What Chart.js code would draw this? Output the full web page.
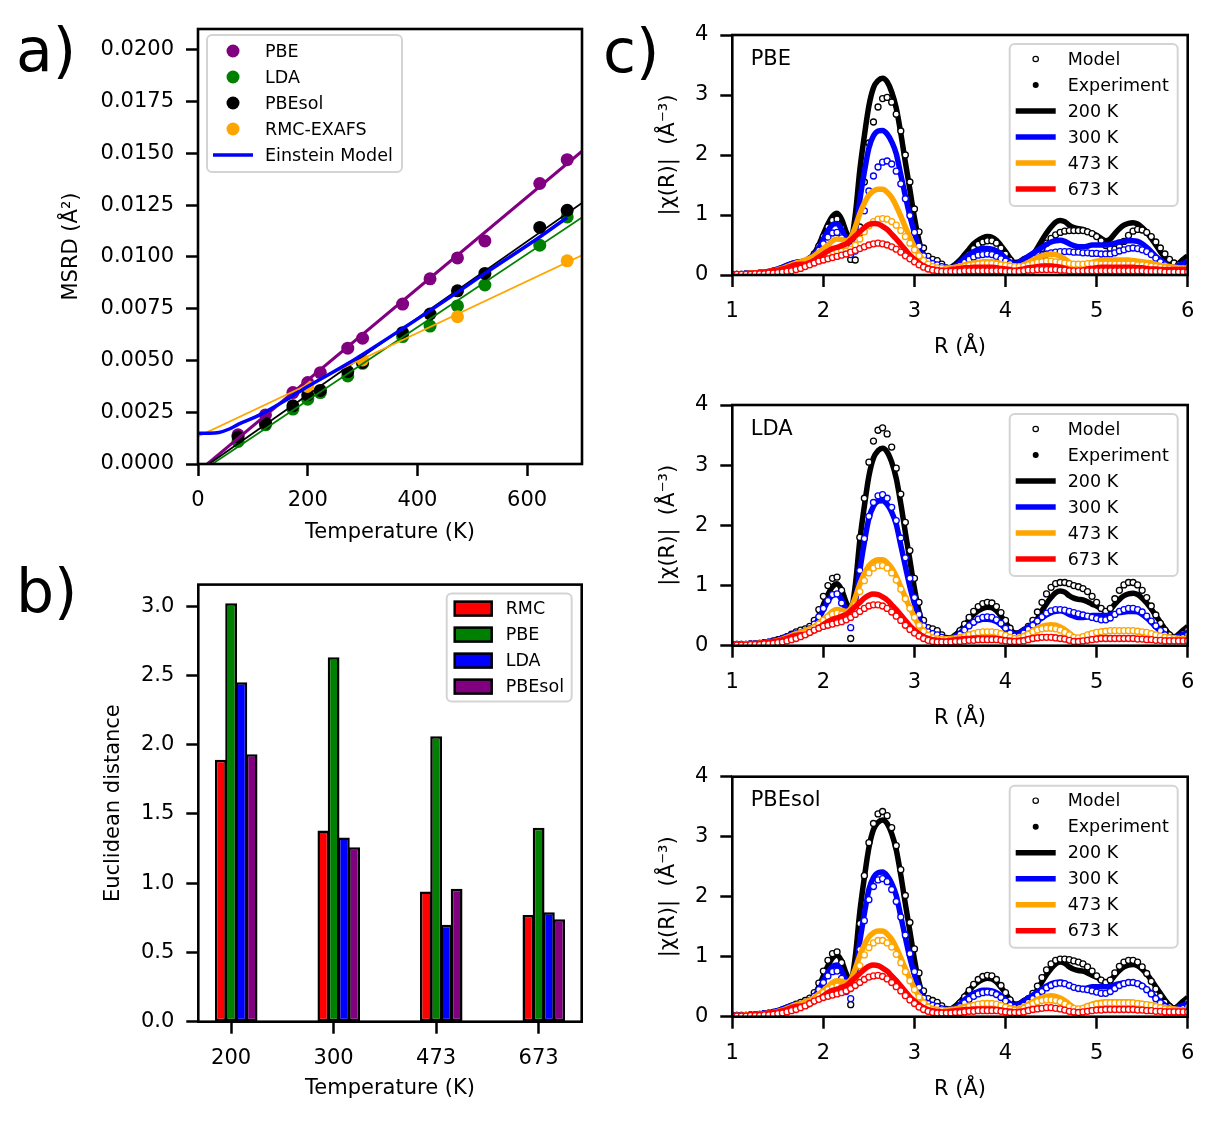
<!DOCTYPE html>
<html>
<head>
<meta charset="utf-8">
<script src="https://cdn.jsdelivr.net/npm/chart.js@4.4.1/dist/chart.umd.min.js"></script>
<style>
  html, body { margin: 0; padding: 0; background: #fff; }
  body { width: 1210px; height: 1121px; position: relative; overflow: hidden; }
  canvas { position: absolute; }
</style>
</head>
<body>
<canvas id="chartA" width="600" height="555" style="left:0;top:0"></canvas>
<canvas id="chartB" width="600" height="561" style="left:0;top:560px"></canvas>
<canvas id="chartC1" width="610" height="370" style="left:600px;top:0"></canvas>
<canvas id="chartC2" width="610" height="370" style="left:600px;top:370px"></canvas>
<canvas id="chartC3" width="610" height="381" style="left:600px;top:740px"></canvas>
<script>
// -------------------------------
// Panel a data: MSRD vs temperature
// -------------------------------
const DFT_T = [73, 123, 173, 200, 223, 273, 300, 373, 423, 473, 523, 623, 673];
const PBE_MSRD = [0.00141, 0.00237, 0.00345, 0.00393, 0.00441, 0.00559, 0.00607, 0.00772, 0.00894, 0.00995, 0.01077, 0.01354, 0.01469];
const LDA_MSRD = [0.00109, 0.00189, 0.00265, 0.00313, 0.00345, 0.00425, 0.00486, 0.00615, 0.00666, 0.00763, 0.00864, 0.01056, 0.01193];
const PBESOL_MSRD = [0.00130, 0.00197, 0.00281, 0.00334, 0.00355, 0.00446, 0.00490, 0.00634, 0.00724, 0.00836, 0.00920, 0.01142, 0.01225];
const RMC_T = [200, 300, 473, 673];
const RMC_MSRD = [0.00374, 0.00502, 0.00711, 0.00981];

// straight fits, read at their two visible ends
const FIT_PBE_T = [17, 700];
const FIT_PBE = [0, 0.0151];
const FIT_LDA_T = [26, 700];
const FIT_LDA = [0, 0.0119];
const FIT_PBESOL_T = [20, 700];
const FIT_PBESOL = [0, 0.0126];
const FIT_RMC_T = [0, 700];
const FIT_RMC = [0.00133, 0.01008];

const EINSTEIN_T = [0, 20, 38, 57, 75, 106, 124, 166, 200, 274, 374, 474, 523, 623, 673];
const EINSTEIN_MSRD = [0.00149, 0.00149, 0.00152, 0.00169, 0.00194, 0.00229, 0.00253, 0.00318, 0.00374, 0.00486, 0.00655, 0.00831, 0.0092, 0.01096, 0.0119];

const MSRD_TICKS = [0, 0.0025, 0.005, 0.0075, 0.01, 0.0125, 0.015, 0.0175, 0.02];
const TEMP_TICKS = [0, 200, 400, 600];
const NAMES_A = ["PBE", "LDA", "PBEsol", "RMC-EXAFS", "Einstein Model"];

// -------------------------------
// Panel b data: Euclidean distance
// -------------------------------
const BAR_TEMPS = ["200", "300", "473", "673"];
const RMC_DIST = [1.89, 1.38, 0.94, 0.77];
const PBE_DIST = [3.02, 2.63, 2.06, 1.40];
const LDA_DIST = [2.45, 1.33, 0.70, 0.79];
const PBESOL_DIST = [1.93, 1.26, 0.96, 0.74];
const NAMES_B = ["RMC", "PBE", "LDA", "PBEsol"];
const DIST_TICKS = [0, 0.5, 1, 1.5, 2, 2.5, 3];

// -------------------------------
// Panel c data: |chi(R)|
// -------------------------------
const R_GRID = [
  1, 1.05, 1.1, 1.15, 1.2, 1.25, 1.3, 1.35, 1.4, 1.45, 1.5, 1.55, 1.6, 1.65, 1.7, 1.75, 1.8, 1.85, 1.9, 1.95,
  2, 2.05, 2.1, 2.15, 2.2, 2.25, 2.3, 2.35, 2.4, 2.45, 2.5, 2.55, 2.6, 2.65, 2.7, 2.75, 2.8, 2.85, 2.9, 2.95,
  3, 3.05, 3.1, 3.15, 3.2, 3.25, 3.3, 3.35, 3.4, 3.45, 3.5, 3.55, 3.6, 3.65, 3.7, 3.75, 3.8, 3.85, 3.9, 3.95,
  4, 4.05, 4.1, 4.15, 4.2, 4.25, 4.3, 4.35, 4.4, 4.45, 4.5, 4.55, 4.6, 4.65, 4.7, 4.75, 4.8, 4.85, 4.9, 4.95,
  5, 5.05, 5.1, 5.15, 5.2, 5.25, 5.3, 5.35, 5.4, 5.45, 5.5, 5.55, 5.6, 5.65, 5.7, 5.75, 5.8, 5.85, 5.9, 5.95,
  6
];

const EXP_200 = [
  0.02,0.02,0.02,0.02,0.03,0.03,0.04,0.05,0.06,0.08,0.10,0.13,0.16,0.19,0.21,0.22,0.24,0.28,0.36,0.50,
  0.68,0.85,0.98,1.03,0.93,0.72,0.60,1.00,1.75,2.32,2.82,3.12,3.24,3.28,3.22,3.05,2.78,2.36,1.88,1.42,
  0.95,0.57,0.34,0.26,0.25,0.22,0.16,0.12,0.13,0.18,0.25,0.34,0.43,0.52,0.58,0.62,0.64,0.63,0.58,0.49,
  0.39,0.28,0.21,0.22,0.27,0.30,0.34,0.45,0.58,0.70,0.80,0.88,0.91,0.89,0.83,0.79,0.77,0.76,0.73,0.69,
  0.66,0.61,0.57,0.60,0.69,0.77,0.83,0.86,0.87,0.85,0.79,0.71,0.61,0.50,0.39,0.28,0.19,0.14,0.19,0.26,
  0.32
];
const EXP_300 = [
  0.02,0.02,0.02,0.02,0.03,0.03,0.04,0.05,0.06,0.08,0.10,0.13,0.16,0.19,0.21,0.22,0.24,0.27,0.34,0.45,
  0.60,0.74,0.84,0.86,0.76,0.60,0.55,0.72,1.25,1.72,2.12,2.32,2.40,2.41,2.35,2.22,2.02,1.67,1.32,0.98,
  0.70,0.44,0.29,0.22,0.20,0.17,0.14,0.12,0.12,0.15,0.21,0.28,0.34,0.39,0.42,0.44,0.44,0.43,0.40,0.35,
  0.28,0.22,0.19,0.21,0.26,0.31,0.36,0.41,0.46,0.51,0.55,0.57,0.58,0.56,0.52,0.49,0.47,0.47,0.48,0.50,
  0.50,0.50,0.50,0.51,0.53,0.55,0.56,0.57,0.57,0.56,0.52,0.46,0.39,0.31,0.25,0.19,0.14,0.13,0.16,0.19,
  0.22
];
const EXP_473 = [
  0.02,0.02,0.02,0.02,0.03,0.03,0.04,0.05,0.06,0.07,0.09,0.11,0.14,0.17,0.20,0.22,0.25,0.28,0.32,0.38,
  0.44,0.50,0.57,0.60,0.59,0.57,0.62,0.80,1.02,1.20,1.33,1.40,1.43,1.43,1.38,1.29,1.15,0.98,0.80,0.63,
  0.47,0.34,0.24,0.17,0.13,0.12,0.11,0.11,0.12,0.13,0.15,0.17,0.19,0.20,0.21,0.22,0.22,0.22,0.21,0.19,
  0.17,0.15,0.13,0.14,0.17,0.21,0.25,0.29,0.32,0.34,0.35,0.34,0.31,0.27,0.21,0.15,0.13,0.15,0.18,0.21,
  0.23,0.24,0.25,0.25,0.25,0.25,0.25,0.25,0.24,0.23,0.22,0.21,0.20,0.18,0.16,0.15,0.14,0.13,0.12,0.11,
  0.11
];
const EXP_673 = [
  0.02,0.02,0.02,0.02,0.03,0.03,0.04,0.05,0.06,0.07,0.08,0.10,0.12,0.15,0.17,0.18,0.18,0.21,0.25,0.30,
  0.35,0.40,0.44,0.46,0.49,0.52,0.58,0.65,0.72,0.79,0.84,0.86,0.85,0.81,0.76,0.68,0.60,0.51,0.42,0.33,
  0.26,0.20,0.15,0.12,0.10,0.09,0.08,0.08,0.09,0.10,0.11,0.12,0.12,0.13,0.13,0.13,0.13,0.13,0.12,0.11,
  0.10,0.09,0.08,0.09,0.10,0.12,0.13,0.14,0.15,0.15,0.15,0.14,0.13,0.11,0.09,0.07,0.07,0.08,0.10,0.11,
  0.12,0.13,0.13,0.13,0.13,0.13,0.13,0.13,0.13,0.12,0.12,0.11,0.10,0.10,0.09,0.09,0.09,0.09,0.09,0.09,
  0.09
];

const PBE_MODEL_200 = [
  0.01,0.01,0.01,0.02,0.02,0.02,0.03,0.03,0.04,0.05,0.07,0.09,0.11,0.14,0.17,0.19,0.22,0.27,0.35,0.48,
  0.64,0.80,0.91,0.93,0.78,0.48,0.26,0.25,0.80,1.55,2.20,2.55,2.80,2.94,2.96,2.88,2.68,2.40,2.00,1.55,
  1.10,0.72,0.45,0.31,0.26,0.24,0.18,0.12,0.10,0.13,0.19,0.27,0.35,0.44,0.51,0.55,0.57,0.57,0.53,0.45,
  0.35,0.25,0.18,0.16,0.19,0.24,0.30,0.36,0.44,0.53,0.61,0.67,0.71,0.73,0.74,0.74,0.74,0.74,0.72,0.69,
  0.64,0.57,0.49,0.44,0.43,0.47,0.56,0.66,0.73,0.76,0.75,0.71,0.64,0.55,0.45,0.35,0.26,0.20,0.17,0.19,
  0.23
];
const PBE_MODEL_300 = [
  0.01,0.01,0.01,0.02,0.02,0.02,0.03,0.03,0.04,0.05,0.06,0.08,0.10,0.12,0.15,0.17,0.20,0.24,0.31,0.41,
  0.52,0.63,0.70,0.71,0.62,0.45,0.34,0.40,0.70,1.07,1.40,1.65,1.80,1.88,1.90,1.85,1.73,1.52,1.27,0.99,
  0.71,0.48,0.32,0.23,0.19,0.17,0.14,0.11,0.10,0.12,0.16,0.21,0.26,0.30,0.33,0.34,0.35,0.34,0.31,0.27,
  0.23,0.19,0.16,0.15,0.17,0.20,0.24,0.28,0.32,0.35,0.37,0.38,0.39,0.39,0.39,0.38,0.38,0.37,0.37,0.36,
  0.36,0.35,0.35,0.35,0.37,0.40,0.42,0.44,0.45,0.44,0.42,0.39,0.34,0.28,0.22,0.17,0.12,0.10,0.10,0.12,
  0.14
];
const PBE_MODEL_473 = [
  0.01,0.01,0.01,0.01,0.02,0.02,0.02,0.03,0.03,0.04,0.05,0.06,0.08,0.10,0.12,0.15,0.18,0.22,0.26,0.30,
  0.34,0.37,0.39,0.40,0.40,0.40,0.43,0.50,0.60,0.72,0.82,0.89,0.93,0.94,0.93,0.89,0.83,0.74,0.64,0.53,
  0.42,0.32,0.24,0.18,0.14,0.12,0.11,0.10,0.10,0.11,0.12,0.14,0.16,0.17,0.18,0.19,0.19,0.19,0.18,0.17,
  0.16,0.15,0.14,0.14,0.15,0.17,0.19,0.21,0.22,0.23,0.23,0.22,0.21,0.20,0.19,0.18,0.18,0.18,0.19,0.19,
  0.19,0.18,0.18,0.18,0.18,0.18,0.18,0.18,0.18,0.17,0.17,0.16,0.15,0.14,0.13,0.12,0.11,0.10,0.10,0.10,
  0.10
];
const PBE_MODEL_673 = [
  0.01,0.01,0.01,0.01,0.01,0.02,0.02,0.02,0.03,0.03,0.04,0.05,0.06,0.07,0.09,0.11,0.14,0.17,0.20,0.23,
  0.25,0.27,0.29,0.31,0.33,0.35,0.38,0.41,0.44,0.47,0.50,0.52,0.53,0.52,0.50,0.47,0.43,0.38,0.32,0.27,
  0.22,0.17,0.13,0.10,0.08,0.07,0.06,0.06,0.06,0.06,0.06,0.07,0.07,0.07,0.07,0.07,0.07,0.07,0.07,0.07,
  0.06,0.06,0.06,0.06,0.07,0.08,0.08,0.09,0.09,0.09,0.09,0.09,0.08,0.08,0.07,0.07,0.07,0.07,0.07,0.07,
  0.07,0.07,0.07,0.07,0.07,0.07,0.07,0.07,0.07,0.07,0.07,0.06,0.06,0.06,0.06,0.05,0.05,0.05,0.05,0.05,
  0.05
];

const LDA_MODEL_200 = [
  0.02,0.02,0.02,0.02,0.03,0.03,0.04,0.05,0.06,0.08,0.10,0.12,0.15,0.19,0.23,0.26,0.28,0.32,0.42,0.60,
  0.82,1.00,1.12,1.14,0.92,0.50,0.12,0.65,1.80,2.45,3.05,3.40,3.58,3.62,3.52,3.30,2.95,2.52,2.05,1.58,
  1.12,0.72,0.42,0.30,0.28,0.25,0.18,0.12,0.11,0.16,0.25,0.36,0.47,0.57,0.65,0.70,0.72,0.71,0.65,0.55,
  0.42,0.29,0.19,0.18,0.24,0.32,0.42,0.56,0.72,0.86,0.97,1.03,1.05,1.05,1.03,1.00,0.98,0.95,0.90,0.82,
  0.72,0.62,0.57,0.62,0.78,0.92,1.01,1.05,1.05,1.01,0.92,0.80,0.66,0.51,0.37,0.26,0.18,0.14,0.15,0.20,
  0.26
];
const LDA_MODEL_300 = [
  0.02,0.02,0.02,0.02,0.03,0.03,0.04,0.05,0.06,0.07,0.09,0.11,0.13,0.16,0.19,0.21,0.24,0.28,0.36,0.48,
  0.62,0.75,0.85,0.86,0.71,0.45,0.30,0.62,1.25,1.78,2.15,2.38,2.49,2.51,2.45,2.30,2.08,1.79,1.46,1.12,
  0.80,0.52,0.33,0.23,0.20,0.18,0.14,0.11,0.10,0.13,0.19,0.26,0.33,0.39,0.44,0.47,0.48,0.47,0.43,0.37,
  0.29,0.21,0.16,0.16,0.21,0.27,0.34,0.41,0.48,0.54,0.58,0.60,0.60,0.59,0.57,0.55,0.53,0.51,0.49,0.47,
  0.45,0.43,0.43,0.46,0.52,0.57,0.60,0.62,0.62,0.60,0.56,0.49,0.41,0.33,0.25,0.18,0.13,0.10,0.11,0.14,
  0.18
];
const LDA_MODEL_473 = [
  0.01,0.01,0.01,0.02,0.02,0.02,0.03,0.03,0.04,0.05,0.06,0.08,0.10,0.12,0.15,0.18,0.21,0.25,0.30,0.36,
  0.42,0.48,0.52,0.54,0.52,0.48,0.50,0.68,0.90,1.08,1.21,1.29,1.33,1.33,1.29,1.21,1.09,0.94,0.78,0.62,
  0.47,0.34,0.24,0.17,0.13,0.11,0.10,0.10,0.10,0.11,0.13,0.15,0.18,0.20,0.22,0.23,0.23,0.23,0.22,0.20,
  0.17,0.14,0.12,0.12,0.15,0.19,0.23,0.26,0.28,0.29,0.29,0.28,0.26,0.22,0.18,0.14,0.13,0.15,0.18,0.20,
  0.22,0.23,0.24,0.25,0.25,0.25,0.25,0.25,0.25,0.24,0.23,0.22,0.20,0.18,0.16,0.14,0.13,0.12,0.11,0.11,
  0.11
];
const LDA_MODEL_673 = [
  0.01,0.01,0.01,0.01,0.02,0.02,0.02,0.03,0.03,0.04,0.05,0.06,0.08,0.10,0.12,0.15,0.18,0.22,0.26,0.29,
  0.32,0.34,0.36,0.38,0.40,0.43,0.47,0.52,0.57,0.62,0.66,0.68,0.68,0.66,0.62,0.56,0.49,0.42,0.34,0.27,
  0.21,0.16,0.12,0.09,0.07,0.06,0.06,0.06,0.06,0.07,0.07,0.08,0.09,0.09,0.10,0.10,0.10,0.10,0.10,0.09,
  0.08,0.07,0.07,0.07,0.08,0.10,0.12,0.13,0.14,0.14,0.14,0.13,0.12,0.11,0.09,0.07,0.07,0.08,0.09,0.10,
  0.11,0.12,0.12,0.12,0.12,0.12,0.12,0.12,0.12,0.11,0.11,0.10,0.10,0.09,0.09,0.08,0.08,0.08,0.08,0.08,
  0.08
];

const PBESOL_MODEL_200 = [
  0.02,0.02,0.02,0.02,0.03,0.03,0.04,0.05,0.06,0.07,0.09,0.11,0.14,0.17,0.21,0.24,0.27,0.31,0.40,0.56,
  0.76,0.94,1.05,1.08,0.90,0.52,0.20,0.55,1.55,2.35,2.90,3.22,3.38,3.42,3.35,3.15,2.85,2.45,2.02,1.57,
  1.13,0.73,0.43,0.30,0.27,0.24,0.18,0.12,0.11,0.15,0.23,0.33,0.44,0.54,0.62,0.67,0.69,0.68,0.62,0.52,
  0.40,0.28,0.19,0.18,0.23,0.30,0.39,0.51,0.65,0.78,0.88,0.94,0.96,0.96,0.95,0.93,0.91,0.88,0.83,0.76,
  0.68,0.61,0.57,0.61,0.73,0.84,0.91,0.94,0.94,0.91,0.83,0.72,0.59,0.46,0.34,0.24,0.17,0.13,0.14,0.19,
  0.25
];
const PBESOL_MODEL_300 = [
  0.02,0.02,0.02,0.02,0.03,0.03,0.04,0.05,0.06,0.07,0.08,0.10,0.12,0.15,0.18,0.20,0.23,0.27,0.34,0.45,
  0.57,0.68,0.75,0.76,0.64,0.42,0.30,0.58,1.12,1.60,1.95,2.17,2.28,2.30,2.25,2.12,1.92,1.66,1.36,1.05,
  0.75,0.49,0.31,0.22,0.19,0.17,0.13,0.10,0.10,0.12,0.17,0.23,0.29,0.34,0.38,0.40,0.41,0.40,0.37,0.32,
  0.26,0.19,0.15,0.15,0.19,0.24,0.30,0.36,0.42,0.48,0.52,0.55,0.56,0.55,0.52,0.49,0.47,0.46,0.45,0.43,
  0.41,0.39,0.39,0.42,0.47,0.52,0.55,0.57,0.57,0.55,0.51,0.45,0.38,0.30,0.23,0.17,0.12,0.10,0.11,0.14,
  0.17
];
const PBESOL_MODEL_473 = [
  0.01,0.01,0.01,0.02,0.02,0.02,0.03,0.03,0.04,0.05,0.06,0.07,0.09,0.11,0.14,0.17,0.20,0.24,0.28,0.34,
  0.40,0.45,0.49,0.51,0.49,0.45,0.47,0.64,0.85,1.03,1.15,1.23,1.27,1.27,1.23,1.16,1.04,0.90,0.75,0.60,
  0.45,0.33,0.23,0.16,0.12,0.11,0.10,0.09,0.09,0.10,0.12,0.14,0.17,0.19,0.21,0.22,0.22,0.22,0.21,0.19,
  0.16,0.13,0.11,0.11,0.14,0.18,0.22,0.25,0.27,0.28,0.28,0.27,0.25,0.21,0.17,0.14,0.13,0.14,0.17,0.19,
  0.21,0.22,0.23,0.23,0.23,0.23,0.23,0.23,0.23,0.22,0.21,0.20,0.19,0.17,0.15,0.13,0.12,0.11,0.10,0.10,
  0.10
];
const PBESOL_MODEL_673 = [
  0.01,0.01,0.01,0.01,0.02,0.02,0.02,0.03,0.03,0.04,0.05,0.06,0.08,0.10,0.12,0.15,0.18,0.22,0.26,0.29,
  0.32,0.34,0.36,0.38,0.40,0.43,0.47,0.52,0.57,0.62,0.66,0.68,0.69,0.67,0.63,0.57,0.50,0.43,0.35,0.28,
  0.22,0.16,0.12,0.09,0.07,0.06,0.06,0.06,0.06,0.07,0.07,0.08,0.09,0.09,0.10,0.10,0.10,0.10,0.10,0.09,
  0.08,0.07,0.07,0.07,0.08,0.10,0.12,0.13,0.14,0.15,0.15,0.14,0.13,0.11,0.09,0.08,0.07,0.08,0.09,0.10,
  0.11,0.11,0.12,0.12,0.12,0.12,0.12,0.12,0.12,0.11,0.11,0.10,0.10,0.09,0.09,0.08,0.08,0.08,0.08,0.08,
  0.08
];

const TEMP_LABELS = ["200 K", "300 K", "473 K", "673 K"];
const R_TICKS = [1, 2, 3, 4, 5, 6];
const CHI_TICKS = [0, 1, 2, 3, 4];

// -------------------------------
// Shared styling
// -------------------------------
const FONT = "'DejaVu Sans', sans-serif";
const PURPLE = "#800080", GREEN = "#008000", BLACK = "#000000", ORANGE = "#ffa500", BLUE = "#0000ff", RED = "#ff0000";
const TEMP_COLORS = [BLACK, BLUE, ORANGE, RED];

Chart.defaults.font.family = FONT;
Chart.defaults.color = "#000";

function axis(o) {
  return {
    type: "linear",
    min: o.min,
    max: o.max,
    offset: false,
    afterBuildTicks: s => { s.ticks = o.ticks.map(v => ({ value: v })); },
    afterFit: s => {
      if (o.width != null) s.width = o.width;
      if (o.height != null) s.height = o.height;
    },
    ticks: {
      color: "#000", font: { family: FONT, size: 21 }, padding: 12,
      autoSkip: false, maxRotation: 0, minRotation: 0,
      callback: o.fmt
    },
    grid: {
      display: true, offset: false, drawOnChartArea: false, drawTicks: true,
      tickLength: 12, tickWidth: 2.5, tickColor: "#000"
    },
    border: { display: false },
    title: {
      display: true, text: o.title, color: "#000",
      font: { family: FONT, size: 21 }, padding: o.titlePad
    }
  };
}

// spines on all four sides
const frame = {
  id: "frame",
  afterDatasetsDraw(chart) {
    const { ctx, chartArea: a } = chart;
    ctx.save();
    ctx.strokeStyle = "#000";
    ctx.lineWidth = 2.6;
    ctx.strokeRect(a.left, a.top, a.right - a.left, a.bottom - a.top);
    ctx.restore();
  }
};

function drawHandle(ctx, it, x, cy) {
  ctx.save();
  if (it.kind === "dot") {
    ctx.beginPath();
    ctx.arc(x + 26, cy, it.r, 0, Math.PI * 2);
    ctx.fillStyle = it.color;
    ctx.fill();
  } else if (it.kind === "ring") {
    ctx.beginPath();
    ctx.arc(x + 26, cy, it.r, 0, Math.PI * 2);
    ctx.fillStyle = "#fff";
    ctx.fill();
    ctx.lineWidth = 1.2;
    ctx.strokeStyle = it.color;
    ctx.stroke();
  } else if (it.kind === "line") {
    ctx.beginPath();
    ctx.moveTo(x + 6, cy);
    ctx.lineTo(x + 46, cy);
    ctx.lineWidth = it.lw;
    ctx.strokeStyle = it.color;
    ctx.stroke();
  } else if (it.kind === "rect") {
    ctx.fillStyle = it.color;
    ctx.fillRect(x + 8, cy - 7, 37, 14);
    ctx.lineWidth = 2.5;
    ctx.strokeStyle = "#000";
    ctx.strokeRect(x + 8, cy - 7, 37, 14);
  }
  ctx.restore();
}

function boxLegend(items, box) {
  return {
    id: "boxLegend",
    afterDraw(chart) {
      const { ctx, chartArea: a } = chart;
      const x = box.right != null ? a.right - box.right - box.w : a.left + box.left;
      const y = a.top + box.top;
      ctx.save();
      ctx.beginPath();
      ctx.roundRect(x, y, box.w, box.h, 5);
      ctx.fillStyle = "rgba(255,255,255,0.8)";
      ctx.fill();
      ctx.lineWidth = 2;
      ctx.strokeStyle = "#d4d4d4";
      ctx.stroke();
      ctx.font = "17.5px " + FONT;
      ctx.textBaseline = "middle";
      items.forEach((it, i) => {
        const cy = y + box.first + i * 26;
        drawHandle(ctx, it, x, cy);
        ctx.fillStyle = "#000";
        ctx.fillText(it.label, x + box.textX, cy + 1);
      });
      ctx.restore();
    }
  };
}

function labelText(text, x, y, size, inArea) {
  return {
    id: "labelText",
    afterDraw(chart) {
      const { ctx, chartArea: a } = chart;
      ctx.save();
      ctx.font = size + "px " + FONT;
      ctx.fillStyle = "#000";
      ctx.textBaseline = "alphabetic";
      ctx.fillText(text, inArea ? a.left + x : x, inArea ? a.top + y : y);
      ctx.restore();
    }
  };
}

function withOrder(list) {
  // later datasets sit on top, as in the original plot order
  return list.map((d, i) => Object.assign(d, { order: list.length - i }));
}

function points(xs, ys, color, label) {
  return {
    label, data: xs.map((x, i) => ({ x, y: ys[i] })), showLine: false,
    pointRadius: 6.5, pointHoverRadius: 6.5, pointBorderWidth: 0,
    pointBackgroundColor: color, pointBorderColor: color
  };
}

function line(xs, ys, color, width) {
  return {
    data: xs.map((x, i) => ({ x, y: ys[i] })), showLine: true,
    borderColor: color, borderWidth: width, pointRadius: 0, fill: false
  };
}

// -------------------------------
// Panel a
// -------------------------------
const einstein = line(EINSTEIN_T, EINSTEIN_MSRD, BLUE, 3.5);
einstein.cubicInterpolationMode = "monotone";

new Chart(document.getElementById("chartA"), {
  type: "scatter",
  data: {
    datasets: withOrder([
      points(DFT_T, PBE_MSRD, PURPLE, NAMES_A[0]),
      points(DFT_T, LDA_MSRD, GREEN, NAMES_A[1]),
      points(DFT_T, PBESOL_MSRD, BLACK, NAMES_A[2]),
      points(RMC_T, RMC_MSRD, ORANGE, NAMES_A[3]),
      line(FIT_PBE_T, FIT_PBE, PURPLE, 3),
      line(FIT_LDA_T, FIT_LDA, GREEN, 1.8),
      line(FIT_PBESOL_T, FIT_PBESOL, BLACK, 1.8),
      line(FIT_RMC_T, FIT_RMC, ORANGE, 1.8),
      einstein
    ])
  },
  options: {
    responsive: false, animation: false, events: [],
    layout: { padding: { left: 0, top: 29, right: 18, bottom: 0 } },
    plugins: { legend: { display: false }, tooltip: { enabled: false } },
    scales: {
      x: axis({ min: 0, max: 700, ticks: TEMP_TICKS, height: 91, fmt: v => String(v),
                title: "Temperature (K)", titlePad: { top: 0, bottom: 9.4 } }),
      y: axis({ min: 0, max: 0.021, ticks: MSRD_TICKS, width: 198, fmt: v => v.toFixed(4),
                title: "MSRD (Å²)", titlePad: { top: 59, bottom: 0 } })
    }
  },
  plugins: [
    frame,
    boxLegend([
      { label: NAMES_A[0], kind: "dot", color: PURPLE, r: 6.5 },
      { label: NAMES_A[1], kind: "dot", color: GREEN, r: 6.5 },
      { label: NAMES_A[2], kind: "dot", color: BLACK, r: 6.5 },
      { label: NAMES_A[3], kind: "dot", color: ORANGE, r: 6.5 },
      { label: NAMES_A[4], kind: "line", color: BLUE, lw: 3.5 }
    ], { left: 9, top: 6, w: 195, h: 137, first: 16, textX: 58 }),
    labelText("a)", 16, 71, 60, false)
  ]
});

// -------------------------------
// Panel b
// -------------------------------
const BAR_OFFSETS = [-0.1, 0, 0.1, 0.2];
const barSeries = [RMC_DIST, PBE_DIST, LDA_DIST, PBESOL_DIST];
const barColors = [RED, GREEN, BLUE, PURPLE];

new Chart(document.getElementById("chartB"), {
  type: "bar",
  data: {
    datasets: barSeries.map((vals, k) => ({
      label: NAMES_B[k],
      data: vals.map((v, i) => ({ x: i + BAR_OFFSETS[k], y: v })),
      backgroundColor: barColors[k], borderColor: "#000", borderWidth: 2.5,
      borderSkipped: false, grouped: false, barPercentage: 1.15, categoryPercentage: 1
    }))
  },
  options: {
    responsive: false, animation: false, events: [],
    layout: { padding: { left: 0, top: 24.3, right: 18.3, bottom: 0 } },
    plugins: { legend: { display: false }, tooltip: { enabled: false } },
    scales: {
      x: axis({ min: -0.32, max: 3.42, ticks: [0, 1, 2, 3], height: 99.3,
                fmt: v => BAR_TEMPS[Math.round(v)],
                title: "Temperature (K)", titlePad: { top: 0, bottom: 19.4 } }),
      y: axis({ min: 0, max: 3.155, ticks: DIST_TICKS, width: 198.3, fmt: v => v.toFixed(1),
                title: "Euclidean distance", titlePad: { top: 100.5, bottom: 0 } })
    }
  },
  plugins: [
    frame,
    boxLegend(NAMES_B.map((n, k) => ({ label: n, kind: "rect", color: barColors[k] })),
      { right: 10, top: 9, w: 125, h: 108, first: 15, textX: 59 }),
    labelText("b)", 16, 52, 60, false)
  ]
});

// -------------------------------
// Panel c
// -------------------------------
const EXP_SERIES = [EXP_200, EXP_300, EXP_473, EXP_673];

function exafsChart(id, name, models, geom, extra) {
  const ds = [];
  EXP_SERIES.forEach((exp, k) => {
    ds.push({
      label: TEMP_LABELS[k],
      data: R_GRID.map((r, i) => ({ x: r, y: exp[i] })), showLine: true,
      borderColor: TEMP_COLORS[k], borderWidth: 5.5, pointRadius: 0,
      cubicInterpolationMode: "monotone", fill: false
    });
    ds.push({
      label: "Model",
      data: R_GRID.map((r, i) => ({ x: r, y: models[k][i] })), showLine: false,
      pointRadius: 3, pointHoverRadius: 3, pointBorderWidth: 1.3,
      pointBorderColor: TEMP_COLORS[k], pointBackgroundColor: "#ffffff"
    });
  });

  const legendItems = [
    { label: "Model", kind: "ring", color: BLACK, r: 2.7 },
    { label: "Experiment", kind: "dot", color: BLACK, r: 3 }
  ].concat(TEMP_LABELS.map((t, k) => ({ label: t, kind: "line", color: TEMP_COLORS[k], lw: 5.5 })));

  const plugins = [
    frame,
    boxLegend(legendItems, { right: 10, top: 9, w: 168, h: 162, first: 15, textX: 58 }),
    labelText(name, 18.4, 29.5, 21, true)
  ].concat(extra);

  return new Chart(document.getElementById(id), {
    type: "scatter",
    data: { datasets: withOrder(ds) },
    options: {
      responsive: false, animation: false, events: [],
      layout: { padding: { left: 0, top: geom.top, right: 22.3, bottom: 0 } },
      plugins: { legend: { display: false }, tooltip: { enabled: false } },
      scales: {
        x: axis({ min: 1, max: 6, ticks: R_TICKS, height: geom.xh, fmt: v => String(v),
                  title: "R (Å)", titlePad: { top: 0, bottom: geom.tb } }),
        y: axis({ min: 0, max: 4, ticks: CHI_TICKS, width: 132.3, fmt: v => String(v),
                  title: "|χ(R)|  (Å⁻³)", titlePad: { top: 56, bottom: 0 } })
      }
    },
    plugins
  });
}

exafsChart("chartC1", "PBE", [PBE_MODEL_200, PBE_MODEL_300, PBE_MODEL_473, PBE_MODEL_673],
  { top: 35, xh: 95, tb: 9.4 }, [labelText("c)", 3, 72, 60, false)]);
exafsChart("chartC2", "LDA", [LDA_MODEL_200, LDA_MODEL_300, LDA_MODEL_473, LDA_MODEL_673],
  { top: 35, xh: 94.3, tb: 8.4 }, []);
exafsChart("chartC3", "PBEsol", [PBESOL_MODEL_200, PBESOL_MODEL_300, PBESOL_MODEL_473, PBESOL_MODEL_673],
  { top: 36.7, xh: 104.3, tb: 18.4 }, []);
</script>
</body>
</html>
